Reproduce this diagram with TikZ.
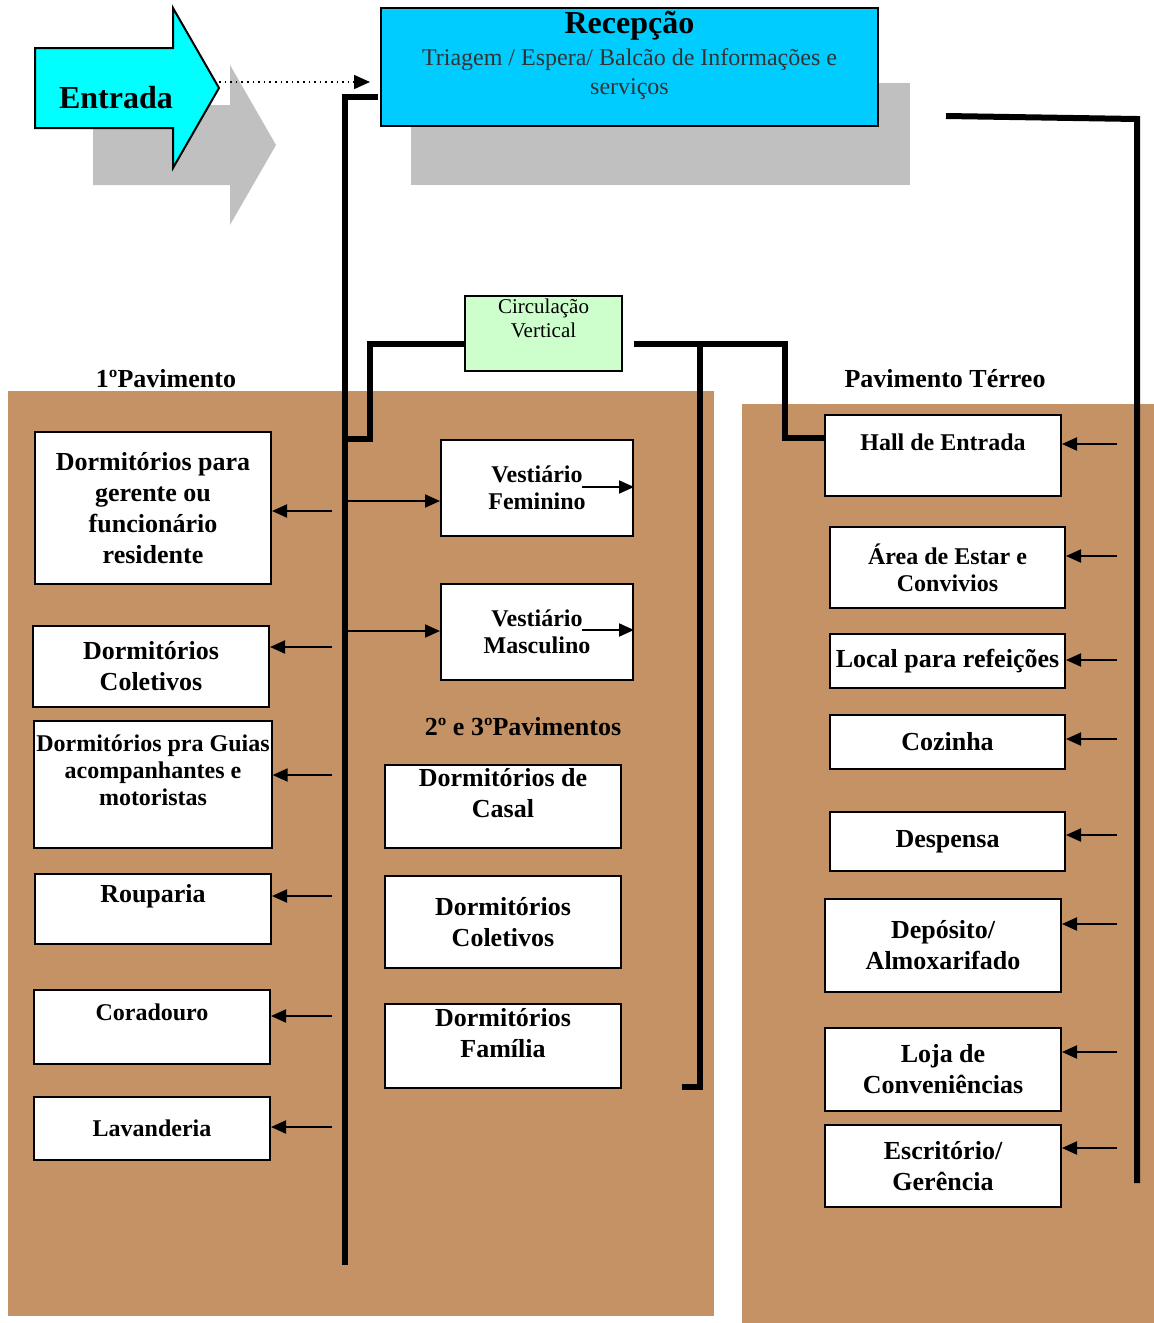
\documentclass[tikz,border=0pt]{standalone}
\usepackage{fontspec}
\setmainfont{Liberation Serif}
\usetikzlibrary{arrows.meta}
\definecolor{cork}{RGB}{196,146,100}
\definecolor{shadowgray}{RGB}{192,192,192}
\definecolor{entcyan}{RGB}{0,255,255}
\definecolor{reccyan}{RGB}{0,204,255}
\definecolor{circgreen}{RGB}{204,255,204}
\definecolor{subgray}{RGB}{51,51,51}
\newcommand{\bigtxt}{\bfseries\fontsize{13}{15.5}\selectfont}
\newcommand{\smalltxt}{\bfseries\fontsize{12}{13.5}\selectfont}
\newcommand{\subtxt}{\mdseries\fontsize{12}{14.5}\selectfont\color{subgray}}

\begin{document}
\begin{tikzpicture}[
  x=0.5pt, y=-0.5pt, font=\bigtxt,
  room/.style={draw, fill=white, line width=1pt, align=center, inner xsep=1pt, inner ysep=1pt, minimum width=118pt},
  smalltext/.style={font=\smalltxt},
  liftby/.style={text depth=#1},
  trunk/.style={line width=3pt},
  ar/.style={-{Triangle[length=7.5pt,width=6.5pt]}, line width=1pt},
]
\useasboundingbox (0,0) rectangle (1154,1323);
% --- cork boards ---
\fill[cork] (8,391) rectangle (714,1316);
\fill[cork] (742,404) rectangle (1154,1323);
% --- entrance arrow and reception ---
\fill[shadowgray] (93,105) -- (230,105) -- (230,65) -- (276,145) -- (230,225) -- (230,185) -- (93,185) -- cycle;
\draw[fill=entcyan, line width=1pt] (35,48) -- (173,48) -- (173,8) -- (219,88) -- (173,168) -- (173,128) -- (35,128) -- cycle;
\node[font=\bfseries\fontsize{16}{19}\selectfont] (ent) at (116,98) {Entrada};
\fill[shadowgray] (411,83) rectangle (910,185);
\node[room, fill=reccyan, minimum width=248.5pt, minimum height=59pt, font=\bfseries\fontsize{16}{14.5}\selectfont, liftby=14pt] (rec) at (629.5,67)
  {Recepção\\[1.5pt] {\subtxt Triagem / Espera/ Balcão de Informações e}\\ {\subtxt serviços}};
\coordinate (tip) at (219,82);
\coordinate (recin) at (370,82);
\draw[dotted, line width=0.8pt, -{Triangle[length=8pt,width=7pt]}] (tip) -- (recin);
\node[room, fill=circgreen, minimum width=78.5pt, minimum height=37.5pt, font=\mdseries\fontsize{10.5}{12}\selectfont, liftby=15.5pt] (circ) at (543.5,333.5) {Circulação\\Vertical};
% --- headings ---
\node (hd1) at (166,379) {1ºPavimento};
\node (hd2) at (523,727) {2º e 3ºPavimentos};
\node (hd3) at (945,379) {Pavimento Térreo};
% --- 1o pavimento ---
\node[room, minimum height=76pt] (dger) at (153,508) {Dormitórios para\\gerente ou\\funcionário\\residente};
\node[room, minimum height=40.5pt] (dcol) at (151,666.5) {Dormitórios\\Coletivos};
\node[room, smalltext, minimum height=63.5pt, liftby=14pt] (dgui) at (153,784.5) {Dormitórios pra Guias\\acompanhantes e\\motoristas};
\node[room, minimum height=35pt, liftby=15.8pt] (roup) at (153,909) {Rouparia};
\node[room, smalltext, minimum height=37pt, liftby=15pt] (cora) at (152,1027) {Coradouro};
\node[room, smalltext, minimum height=31.5pt] (lava) at (152,1128.5) {Lavanderia};
% --- vestiarios, 2o e 3o pavimentos ---
\node[room, smalltext, minimum width=96pt, minimum height=48pt] (vfem) at (537,488) {Vestiário\\Feminino};
\node[room, smalltext, minimum width=96pt, minimum height=48pt] (vmas) at (537,632) {Vestiário\\Masculino};
\node[room, minimum height=41.5pt, liftby=14pt] (dcas) at (503,806.5) {Dormitórios de\\Casal};
\node[room, minimum height=46pt] (dcol2) at (503,922) {Dormitórios\\Coletivos};
\node[room, minimum height=42pt, liftby=13.5pt] (dfam) at (503,1046) {Dormitórios\\Família};
% --- pavimento terreo ---
\node[room, smalltext, minimum height=40.5pt, liftby=13.5pt] (hall) at (943,455.5) {Hall de Entrada};
\node[room, smalltext, minimum width=117.5pt, minimum height=40.5pt] (estar) at (947.5,567.5) {Área de Estar e\\Convivios};
\node[room, minimum width=117.5pt, minimum height=27pt] (refe) at (947.5,661) {Local para refeições};
\node[room, minimum width=117.5pt, minimum height=27pt] (cozi) at (947.5,742) {Cozinha};
\node[room, minimum width=117.5pt, minimum height=29.5pt] (desp) at (947.5,841.5) {Despensa};
\node[room, minimum height=46.5pt] (depo) at (943,945.5) {Depósito/\\Almoxarifado};
\node[room, minimum height=41.5pt] (loja) at (943,1069.5) {Loja de\\Conveniências};
\node[room, minimum height=41pt] (escr) at (943,1166) {Escritório/\\Gerência};
% --- circulation lines ---
\coordinate (recL) at (378,97);
\coordinate (trunkL) at (345,1265);
\draw[trunk] (recL) -| (trunkL);
\coordinate (cvL) at (464,344);
\coordinate (jointL) at (345,439);
\draw[trunk] (cvL) -| (370,439) -- (jointL);
\coordinate (cvR) at (634,344);
\draw[trunk] (cvR) -| (785,438) -- (hall.west |- 785,438);
\coordinate (midtop) at (700,344);
\coordinate (midend) at (682,1087);
\draw[trunk] (midtop) |- (midend);
\coordinate (recR) at (946,116);
\coordinate (trunkR) at (1137,1183);
\draw[trunk] (recR) -- (1137,119) -- (trunkR);
% --- arrows ---
\foreach \n/\y in {dger/511, dcol/647, dgui/775, roup/896, cora/1016, lava/1127}
  {\coordinate (t) at (332,\y); \draw[ar] (t) -- (\n.east |- t);}
\foreach \n/\y in {vfem/501, vmas/631}
  {\coordinate (t) at (348,\y); \draw[ar] (t) -- (\n.west |- t);}
\foreach \n/\y in {vfem/487, vmas/630}
  {\coordinate (t) at (582,\y); \draw[ar] (t) -- (\n.east |- t);}
\foreach \n/\y in {hall/444, estar/556, refe/660, cozi/739, desp/835, depo/924, loja/1052, escr/1148}
  {\coordinate (t) at (1117,\y); \draw[ar] (t) -- (\n.east |- t);}
\end{tikzpicture}
\end{document}
